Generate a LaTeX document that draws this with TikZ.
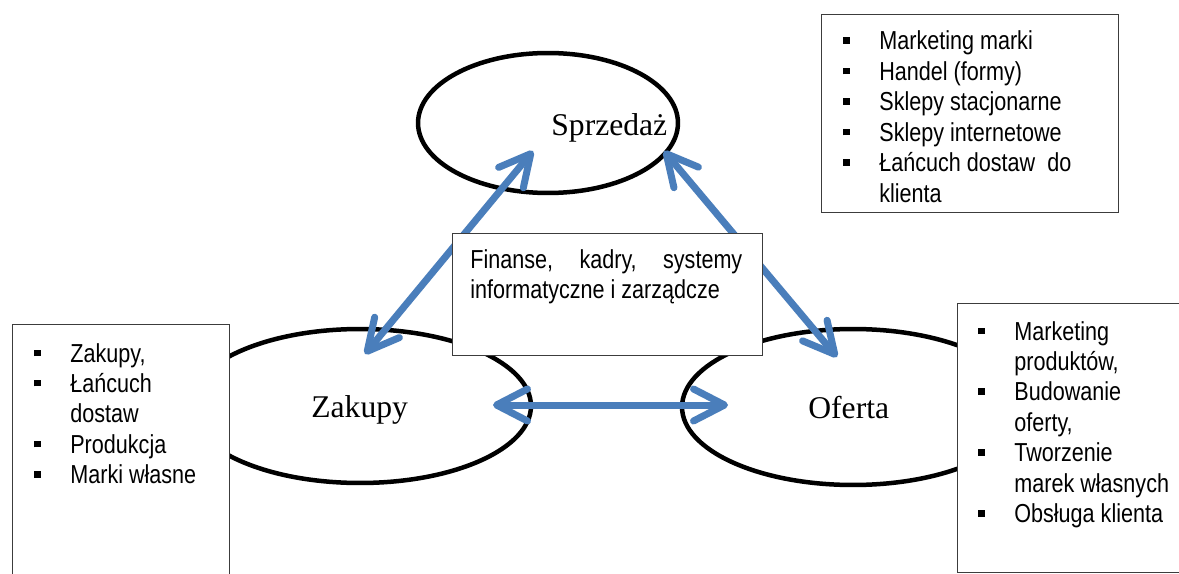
\documentclass[tikz,border=0pt]{standalone}
\usepackage{fontspec}
\setmainfont{Liberation Serif}
\newfontfamily\boxsans[FakeStretch=0.83]{Liberation Sans}
\usetikzlibrary{arrows.meta,shapes.geometric}
\definecolor{arrowblue}{RGB}{74,126,187}
\definecolor{framegray}{RGB}{60,60,60}
\newcommand{\sqbul}{\makebox[0.72cm][l]{\rule[0.12cm]{0.13cm}{0.13cm}}}
\newcommand{\nobul}{\hspace*{0.72cm}}
\begin{document}
\begin{tikzpicture}[x=0.02cm,y=-0.02cm,
  oval/.style={ellipse, draw=black, line width=0.09cm, fill=white, inner sep=0pt},
  boxframe/.style={rectangle, draw=framegray, line width=0.7pt, fill=white, anchor=north west, inner sep=0pt},
  biarrow/.style={draw=arrowblue, line width=0.14cm, line cap=round,
    {Straight Barb[length=0.62cm,width=0.64cm,round]}-{Straight Barb[length=0.62cm,width=0.64cm,round]}},
  ovaltext/.style={font=\fontsize{18}{21}\selectfont, inner sep=0pt, anchor=base west},
  listtext/.style={font=\boxsans\fontsize{14.8}{17.35}\selectfont, inner sep=0pt, anchor=base west}
]
\useasboundingbox (0,0) rectangle (1179,574);
\fill[white] (0,0) rectangle (1179,574);

% ellipses
\node[oval, minimum width=5.2cm, minimum height=2.8cm] (sprz) at (548,123) {};
\node[oval, minimum width=6.84cm, minimum height=3.08cm] (zak) at (360,406) {};
\node[oval, minimum width=6.84cm, minimum height=3.12cm] (ofe) at (853,407) {};

\node[ovaltext] (tsprz) at (551,136) {Sprzedaż};
\node[ovaltext] (tzak) at (311,417) {Zakupy};
\node[ovaltext] (tofe) at (808,418) {Oferta};

% arrows
\coordinate (a1z) at (365,354);
\coordinate (a1s) at (533,151);
\coordinate (a2s) at (664,151);
\coordinate (a2o) at (837,357);
\coordinate (a3z) at (493,405);
\coordinate (a3o) at (728,405);
\draw[biarrow] (a1z) -- (a1s);
\draw[biarrow] (a2s) -- (a2o);
\draw[biarrow] (a3z) -- (a3o);

% boxes
\node[boxframe, minimum width=6.2cm, minimum height=2.44cm] (central) at (452,233) {};
\node[boxframe, minimum width=5.94cm, minimum height=3.96cm] (boxtr) at (821,14) {};
\node[boxframe, minimum width=4.34cm, minimum height=5.52cm] (boxl) at (12,324) {};
\node[boxframe, minimum width=4.86cm, minimum height=5.38cm] (boxr) at (957,303) {};

\node[listtext] (tcentral) at (470,268) {\begin{tabular}[t]{@{}l@{}}\makebox[5.44cm][s]{Finanse, kadry, systemy}\\ informatyczne i zarządcze\end{tabular}};

\node[listtext] (ttr) at (843,50) {\begin{tabular}[t]{@{}l@{}}\sqbul Marketing marki\\ \sqbul Handel (formy)\\ \sqbul Sklepy stacjonarne\\ \sqbul Sklepy internetowe\\ \sqbul Łańcuch dostaw~ do\\ \nobul klienta\end{tabular}};

\node[listtext] (tl) at (34,362) {\begin{tabular}[t]{@{}l@{}}\sqbul Zakupy,\\ \sqbul Łańcuch\\ \nobul dostaw\\ \sqbul Produkcja\\ \sqbul Marki własne\end{tabular}};

\node[listtext] (tr) at (978,340) {\begin{tabular}[t]{@{}l@{}}\sqbul Marketing\\ \nobul produktów,\\ \sqbul Budowanie\\ \nobul oferty,\\ \sqbul Tworzenie\\ \nobul marek własnych\\ \sqbul Obsługa klienta\end{tabular}};
\end{tikzpicture}
\end{document}
